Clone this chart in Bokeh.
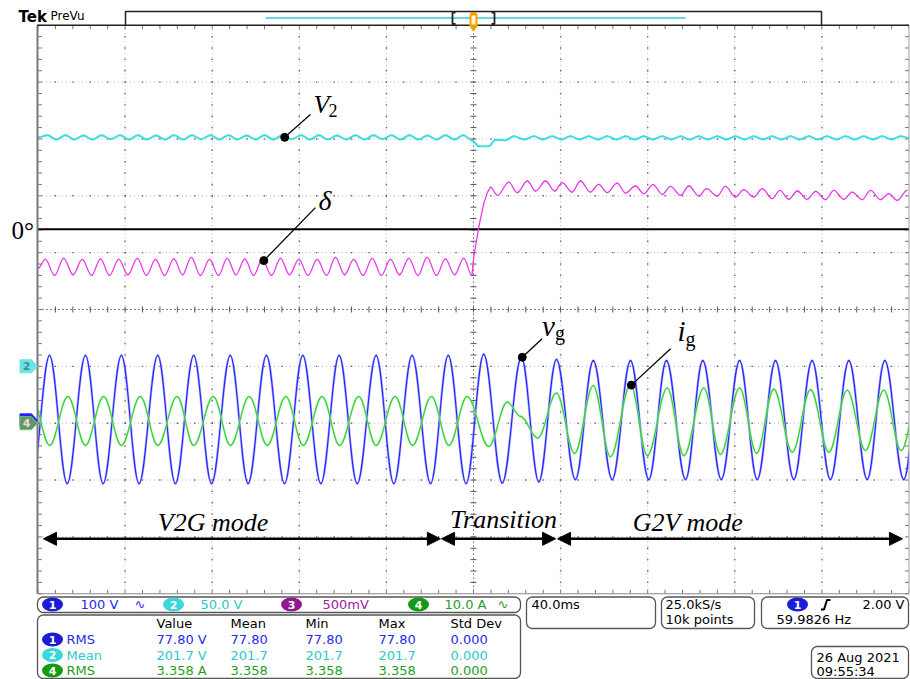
import numpy as np
from bokeh.plotting import figure
from bokeh.models import Range1d, Label, Arrow, NormalHead
from bokeh.embed import file_html
from bokeh.resources import INLINE

# ------------------------------------------------------------------ data
TIME_PER_DIV_MS = 40.0
CH_SCALE = {"ch1": 100.0, "ch2": 50.0, "ch3": 500.0, "ch4": 10.0}   # units per division
CH_POS_DIV = {"ch1": -1.95, "ch2": -1.0, "ch3": 1.41, "ch4": -2.0}  # ground level (div from centre)

# ch1: grid voltage v_g (V) - successive extrema
vg_t = [-203.0, -194.7, -186.6, -178.2, -170.1, -161.7, -153.6, -145.0, -136.9, -128.5,
        -120.3, -111.7, -103.5, -95.1, -86.8, -78.4, -70.1, -61.7, -53.4, -44.7,
        -36.6, -28.2, -19.7, -11.6, -3.4, 4.7, 13.2, 22.0, 30.0, 38.1,
        46.8, 55.0, 63.7, 72.1, 80.5, 88.6, 97.4, 105.3, 113.8, 122.2,
        130.3, 138.7, 147.1, 155.5, 163.9, 172.4, 180.8, 188.9, 197.6, 205.7]
vg_v = [-111, 114, -111, 114, -111, 114, -111, 114, -111, 114,
        -111, 114, -111, 114, -111, 114, -111, 114, -111, 114,
        -111, 114, -111, 114, -111, 116, -110, 111, -108, 107,
        -104, 105, -104, 105, -104, 105, -104, 105, -104, 105,
        -104, 105, -104, 105, -104, 105, -104, 105, -104, 105]

# ch4: grid current i_g (A) - successive extrema
ig_t = [-203.0, -194.6, -186.3, -178.2, -169.9, -161.7, -153.0, -145.0, -136.1, -128.5,
        -119.5, -111.6, -103.0, -94.7, -86.2, -78.2, -69.5, -61.5, -52.7, -44.7,
        -36.0, -28.0, -19.3, -11.3, -2.9, 7.0, 15.5, 21.6, 29.5, 38.1,
        46.4, 55.0, 62.9, 72.1, 79.8, 89.0, 96.6, 105.8, 113.4, 122.2,
        130.0, 137.9, 146.4, 154.8, 163.2, 171.6, 180.0, 188.4, 196.4, 204.8]
ig_v = [4.7, -3.9, 4.7, -3.9, 4.7, -3.9, 4.7, -3.9, 4.7, -3.9,
        4.7, -3.9, 4.7, -3.9, 4.7, -3.9, 4.7, -3.9, 4.7, -3.9,
        4.7, -3.9, 4.7, -3.9, 4.7, -4.1, 3.7, 1.2, -2.6, 5.3,
        -5.3, 6.6, -5.9, 6.8, -5.7, 6.2, -5.7, 6.2, -5.5, 6.2,
        -5.3, 6.0, -5.1, 5.9, -5.1, 5.8, -4.8, 5.8, -4.8, 5.8]

# ch2: DC-link voltage V2 (V)
v2_t = [-200.0, -195.6, -191.5, -187.4, -183.3, -179.1, -175.0, -170.8,
        -166.6, -162.3, -158.2, -154.1, -150.0, -145.8, -141.7, -137.5,
        -133.4, -129.3, -125.1, -120.8, -116.7, -112.5, -108.4, -104.2,
        -100.1, -96.0, -91.9, -87.7, -83.5, -79.2, -75.1, -71.0,
        -66.9, -62.7, -58.5, -54.2, -50.1, -45.9, -41.8, -37.7,
        -33.6, -29.4, -25.3, -21.1, -17.0, -12.9, -8.8, -4.6,
        -0.6, 2.4, 7.0, 10.1, 14.7, 18.5,
        23.4, 27.7, 31.9, 36.1, 40.4, 44.5, 48.7, 52.9,
        57.2, 61.4, 65.7, 69.8, 73.9, 78.2, 82.4, 86.7,
        90.9, 95.1, 99.2, 103.5, 107.7, 111.9, 116.2, 120.3,
        124.5, 128.7, 133.0, 137.2, 141.4, 145.6, 149.7, 154.0,
        158.2, 162.4, 166.7, 170.8, 175.0, 179.2, 183.5, 187.7,
        192.0, 196.1, 200.0]
v2_v = [201.4, 203.2, 199.6, 203.2, 199.6, 203.0, 199.6, 203.2,
        199.8, 203.2, 199.6, 203.2, 199.6, 203.0, 199.6, 203.2,
        199.6, 203.2, 199.8, 203.2, 199.6, 203.2, 199.6, 203.0,
        199.6, 203.2, 199.6, 203.2, 199.8, 203.2, 199.6, 203.2,
        199.6, 203.0, 199.6, 203.2, 199.6, 203.2, 199.8, 203.2,
        199.6, 203.2, 199.6, 203.0, 199.6, 203.2, 199.6, 203.2,
        198.7, 193.5, 193.5, 199.4, 198.8, 202.3,
        199.6, 202.3, 199.6, 202.3, 199.6, 202.3, 199.6, 202.3,
        199.6, 202.3, 199.6, 202.3, 199.6, 202.3, 199.6, 202.3,
        199.6, 202.3, 199.6, 202.3, 199.6, 202.3, 199.6, 202.3,
        199.6, 202.3, 199.6, 202.3, 199.6, 202.3, 199.6, 202.3,
        199.6, 202.3, 199.6, 202.3, 199.6, 202.3, 199.6, 202.3,
        199.6, 202.3, 200.9]

# ch3: phase shift delta (mV) - before, during and after the mode change
delta_pre_t = [-200.0, -196.6, -192.4, -188.2, -183.9, -179.7, -175.4, -171.3,
               -167.2, -162.9, -158.7, -154.4, -150.2, -146.0, -141.9, -137.6,
               -133.6, -129.6, -125.4, -121.2, -117.1, -113.1, -109.1, -105.0,
               -101.0, -97.0, -92.8, -88.6, -84.5, -80.2, -76.0, -71.8,
               -67.5, -63.4, -59.2, -55.0, -50.7, -46.5, -42.3, -38.1,
               -34.0, -29.7, -25.5, -21.3, -17.0, -12.9, -8.7, -4.5,
               -0.7]
delta_pre_v = [-343, -264, -405, -255, -400, -264, -405, -260,
               -405, -264, -400, -255, -405, -264, -405, -260,
               -400, -246, -405, -264, -405, -255, -400, -260,
               -405, -264, -405, -255, -400, -264, -405, -264,
               -405, -246, -400, -264, -405, -255, -405, -264,
               -400, -255, -405, -246, -405, -260, -400, -255,
               -405]
delta_step_t = [-0.7, 0.2, 1.4, 2.4, 4.7, 6.4, 7.8]
delta_step_v = [-405, -229, -97, 20, 226, 325, 372]
delta_post_t = [7.8, 11.0, 16.2, 20.1, 24.7, 28.5, 33.1, 37.3,
                40.7, 45.3, 49.1, 53.7, 57.5, 61.4, 66.0, 69.8,
                74.4, 78.2, 82.5, 86.7, 90.5, 95.1, 98.9, 103.5,
                107.0, 111.9, 115.7, 120.3, 124.1, 128.7, 132.6, 137.2,
                140.7, 144.8, 148.7, 153.2, 157.1, 161.7, 165.5, 170.1,
                173.9, 178.5, 182.3, 186.9, 190.7, 194.6, 199.2]
delta_post_v = [372, 299, 416, 323, 425, 337, 425, 337,
                411, 328, 425, 328, 396, 323, 407, 319,
                381, 314, 393, 308, 378, 299, 381, 293,
                358, 293, 378, 284, 349, 284, 358, 270,
                343, 264, 337, 264, 334, 261, 343, 264,
                328, 261, 343, 261, 314, 255, 343]

# operating modes (ms)
mode_names = ["V2G mode", "Transition", "G2V mode"]
mode_start_ms = [-197.5, -14.7, 38.6]
mode_end_ms = [-15.2, 37.7, 197.0]

# on-screen readouts
ch_ids = ["1", "2", "3", "4"]
ch_scale_text = ["100 V", "50.0 V", "500mV", "10.0 A"]
meas_header = ["Value", "Mean", "Min", "Max", "Std Dev"]
meas_src = ["1", "2", "4"]
meas_type = ["RMS", "Mean", "RMS"]
meas_value = ["77.80 V", "201.7 V", "3.358 A"]
meas_mean = ["77.80", "201.7", "3.358"]
meas_min = ["77.80", "201.7", "3.358"]
meas_max = ["77.80", "201.7", "3.358"]
meas_std = ["0.000", "0.000", "0.000"]
timebase_text = "40.0ms"
sample_text = ["25.0kS/s", "10k points"]
trigger_level_text = "2.00 V"
freq_text = "59.9826 Hz"
date_text = ["26 Aug 2021", "09:55:34"]

# ------------------------------------------------------------------ layout
W, H = 910, 679
GX0, GX1 = 37.5, 908.5
GY0, GY1 = 24.75, 593.25
DX = (GX1 - GX0) / 10
DY = (GY1 - GY0) / 10
CX = (GX0 + GX1) / 2
CY = (GY0 + GY1) / 2

BLUE, CYAN, PINK, GREEN = "#2323ff", "#3cdede", "#e838e8", "#30d030"
TBLUE, TCYAN, TPURP, TGREEN = "#2a2ae8", "#2ec8c8", "#a020a0", "#1ea01e"
PILL = {"1": "#1c1cd8", "2": "#3ad8d8", "3": "#8e1a8e", "4": "#159a15"}
PANEL_FONT = "DejaVu Sans"
SERIF = "Liberation Serif"


def Y(py):
    return H - py


p = figure(width=W, height=H, x_range=Range1d(0, W), y_range=Range1d(0, H),
           output_backend="svg", toolbar_location=None, min_border=0,
           x_axis_location=None, y_axis_location=None, outline_line_color=None,
           background_fill_color="white", border_fill_color="white")
p.xgrid.visible = False
p.ygrid.visible = False

t_lo = -5 * TIME_PER_DIV_MS - GX0 / DX * TIME_PER_DIV_MS
t_hi = 5 * TIME_PER_DIV_MS + (W - GX1) / DX * TIME_PER_DIV_MS
p.extra_x_ranges = {"t": Range1d(t_lo, t_hi)}
ch_ground = {}
yr = {}
for ch, s in CH_SCALE.items():
    g = CY - CH_POS_DIV[ch] * DY
    ch_ground[ch] = g
    yr[ch] = Range1d((g - H) / DY * s, g / DY * s)
p.extra_y_ranges = yr

# ------------------------------------------------------------------ graticule
minor_x = [GX0 + i * DX / 5 for i in range(51)]
minor_y = [GY0 + j * DY / 5 for j in range(51)]
major_x = [GX0 + k * DX for k in range(1, 10) if k != 5]
major_y = [GY0 + k * DY for k in range(1, 10) if k != 5]

p.multi_line(xs=[[x, x] for x in major_x], ys=[[Y(GY0), Y(GY1)]] * len(major_x),
             line_color="#bbbbbb", line_dash="1 3", line_width=1)
p.multi_line(xs=[[GX0, GX1]] * len(major_y), ys=[[Y(y), Y(y)] for y in major_y],
             line_color="#bbbbbb", line_dash="1 3", line_width=1)
dx_, dy_ = [], []
for x in major_x:
    for y in minor_y[1:-1]:
        dx_.append(x); dy_.append(Y(y))
for y in major_y:
    for x in minor_x[1:-1]:
        dx_.append(x); dy_.append(Y(y))
p.rect(x=dx_, y=dy_, width=1.4, height=1.4, fill_color="#666666", line_color=None)

# centre lines with minor ticks
p.segment(x0=[CX], y0=[Y(GY0)], x1=[CX], y1=[Y(GY1)], line_color="#888888", line_dash="2 2")
p.segment(x0=[GX0], y0=[Y(CY)], x1=[GX1], y1=[Y(CY)], line_color="#888888", line_dash="2 2")
p.segment(x0=[CX - 3] * 49, y0=[Y(y) for y in minor_y[1:-1]], x1=[CX + 3] * 49,
          y1=[Y(y) for y in minor_y[1:-1]], line_color="#555555")
p.segment(x0=minor_x[1:-1], y0=[Y(CY) - 3] * 49, x1=minor_x[1:-1], y1=[Y(CY) + 3] * 49,
          line_color="#555555")
# edge ticks
p.segment(x0=minor_x, y0=[Y(GY0)] * 51, x1=minor_x, y1=[Y(GY0 + 4)] * 51, line_color="#777777")
p.segment(x0=minor_x, y0=[Y(GY1)] * 51, x1=minor_x, y1=[Y(GY1 - 4)] * 51, line_color="#777777")
p.segment(x0=[GX0] * 51, y0=[Y(y) for y in minor_y], x1=[GX0 + 4] * 51,
          y1=[Y(y) for y in minor_y], line_color="#777777")
p.segment(x0=[GX1] * 51, y0=[Y(y) for y in minor_y], x1=[GX1 - 4] * 51,
          y1=[Y(y) for y in minor_y], line_color="#777777")


# ------------------------------------------------------------------ traces
def smooth(t, v, yname, color, width, alpha=1.0):
    t = np.asarray(t, float)
    v = np.asarray(v, float)
    assert len(t) == len(v)
    d = np.diff(t)
    c = 1 - 2 / np.pi
    p.bezier(x0=t[:-1], y0=v[:-1], x1=t[1:], y1=v[1:],
             cx0=t[:-1] + c * d, cy0=v[:-1], cx1=t[1:] - c * d, cy1=v[1:],
             line_color=color, line_width=width, line_alpha=alpha, line_cap="round",
             x_range_name="t", y_range_name=yname)


# zero-degree reference of delta
p.line(x=[-200, 200], y=[0, 0], x_range_name="t", y_range_name="ch3",
       line_color="black", line_width=2)

smooth(v2_t, v2_v, "ch2", CYAN, 2.0)
smooth(delta_pre_t, delta_pre_v, "ch3", PINK, 1.3)
p.line(delta_step_t, delta_step_v, x_range_name="t", y_range_name="ch3",
       line_color=PINK, line_width=1.3)
smooth(delta_post_t, delta_post_v, "ch3", PINK, 1.3)
smooth(vg_t, vg_v, "ch1", "#9090ff", 2.4, 0.7)
smooth(vg_t, vg_v, "ch1", BLUE, 1.1)
smooth(ig_t, ig_v, "ch4", "#a8f0a8", 2.2, 0.7)
smooth(ig_t, ig_v, "ch4", GREEN, 1.1)

# mask anything beyond the graticule
p.quad(left=[0, GX1], right=[GX0 - 0.5, W], bottom=[Y(GY1 + 1)] * 2, top=[Y(GY0)] * 2,
       fill_color="white", line_color=None)

# borders
p.segment(x0=[GX0 - 0.5], y0=[Y(GY0)], x1=[GX0 - 0.5], y1=[Y(GY1)], line_color="#7a7a7a", line_width=2)
p.segment(x0=[GX1], y0=[Y(GY0)], x1=[GX1], y1=[Y(GY1)], line_color="#a0a0a0", line_width=1)
p.segment(x0=[GX0 - 1], y0=[Y(GY0)], x1=[GX1], y1=[Y(GY0)], line_color="#222222", line_width=1.5)
p.segment(x0=[GX0 - 1], y0=[Y(GY1)], x1=[GX1], y1=[Y(GY1)], line_color="#888888", line_width=1)


# ------------------------------------------------------------------ annotations
def label(x, y, text, size=13, color="black", font=PANEL_FONT, style="normal",
          align="left", baseline="middle", xr="default", yr_="default"):
    # baseline "alphabetic" is emulated with a centred text shifted up
    yoff = 0
    if baseline == "alphabetic":
        baseline = "middle"
        yoff = 0.34 * size
    p.add_layout(Label(x=x, y=y, text=text, text_font=font, text_font_size=f"{size}px",
                       text_color=color, text_font_style=style, text_align=align,
                       text_baseline=baseline, y_offset=yoff,
                       x_range_name=xr, y_range_name=yr_))


ann = [  # channel, dot (t, v), leader end (t, v), [(t, v, text, size, style)]
    ("ch2", (-86.7, 201.4), (-74.9, 221.6), [(-73.5, 222.8, "V", 26, "italic"),
                                             (-66.6, 219.3, "2", 18, "normal")]),
    ("ch3", (-96.3, -275.0), (-72.6, 190.9), [(-71.2, 167.0, "δ", 28, "italic")]),
    ("ch1", (22.4, 111.0), (31.5, 143.7), [(31.5, 149.5, "v", 29, "italic"),
                                           (37.4, 142.5, "g", 20, "normal")]),
    ("ch4", (72.5, 6.7), (90.5, 13.1), [(93.7, 14.5, "i", 29, "italic"),
                                        (97.4, 13.6, "g", 20, "normal")]),
]
for ch, dot, end, texts in ann:
    p.line(x=[dot[0], end[0]], y=[dot[1], end[1]], x_range_name="t", y_range_name=ch,
           line_color="black", line_width=1.3)
    p.scatter(x=[dot[0]], y=[dot[1]], size=8, x_range_name="t", y_range_name=ch,
              fill_color="black", line_color="black")
    for (tx, ty, s, fs, st) in texts:
        label(tx, ty, s, size=fs, font=SERIF, style=st, baseline="alphabetic", xr="t", yr_=ch)

label(11, Y(238), "0°", size=25, font=SERIF, baseline="alphabetic")

# mode arrows
for name, s, e in zip(mode_names, mode_start_ms, mode_end_ms):
    p.add_layout(Arrow(x_start=s, y_start=Y(538.3), x_end=e, y_end=Y(538.3),
                       x_range_name="t", line_width=2.5, line_color="black",
                       start=NormalHead(size=13, fill_color="black", line_color="black"),
                       end=NormalHead(size=13, fill_color="black", line_color="black")))
mode_label_t = [-119.6, 13.8, 98.5]
mode_label_y = [531, 527.5, 531]
for name, tx, py in zip(mode_names, mode_label_t, mode_label_y):
    label(tx, Y(py), name, size=26, font=SERIF, style="italic", align="center",
          baseline="alphabetic", xr="t")

# channel ground markers
def tag(g, fill, line):
    xs = [19.5, 31, 37, 31, 19.5]
    ys = [Y(g - 6.5), Y(g - 6.5), Y(g), Y(g + 6.5), Y(g + 6.5)]
    p.patch(xs, ys, fill_color=fill, line_color=line, line_width=1)

tag(ch_ground["ch1"], BLUE, BLUE)
tag(ch_ground["ch2"], "#6ae4e4", "#6ae4e4")
label(26, Y(ch_ground["ch2"]), "2", size=11, color="#3b8e8e", style="bold", align="center")
tag(ch_ground["ch4"], "#6e8e6e", "#56d856")
label(26, Y(ch_ground["ch4"]), "4", size=11, color="#d6e6d6", style="bold", align="center")

# ------------------------------------------------------------------ top bar
label(18, Y(16), "Tek", size=15, style="bold", font="DejaVu Sans")
label(50, Y(15.5), "PreVu", size=12, font="DejaVu Sans")
p.patch([125, 821, 821, 125], [Y(11), Y(11), Y(GY0), Y(GY0)], fill_color="white",
        line_color="#222222", line_width=1.5)
p.segment(x0=[265], y0=[Y(17.5)], x1=[685], y1=[Y(17.5)], line_color="#35c8d8", line_width=1.5)
for bx, sgn in [(452, 1), (494, -1)]:
    p.line([bx + 3 * sgn, bx, bx, bx + 3 * sgn], [Y(12), Y(12), Y(23.5), Y(23.5)],
           line_color="#222222", line_width=1.8)
OR = "#f2a000"
p.patch([470, 476, 473], [Y(12), Y(12), Y(14.5)], fill_color=OR, line_color=OR)
p.patch([470, 476, 476, 470], [Y(14), Y(14), Y(25), Y(25)], fill_color="#fff3d0",
        line_color=OR, line_width=2)
p.patch([469, 477, 473], [Y(25), Y(25), Y(30.5)], fill_color=OR, line_color=OR)


# ------------------------------------------------------------------ bottom readouts
def rrect(l, r, t, b, rad=6, n=7):
    xs, ys = [], []
    for cx, cy, a0, a1 in [(r - rad, t + rad, -90, 0), (r - rad, b - rad, 0, 90),
                           (l + rad, b - rad, 90, 180), (l + rad, t + rad, 180, 270)]:
        for a in np.linspace(np.radians(a0), np.radians(a1), n):
            xs.append(cx + rad * np.cos(a))
            ys.append(Y(cy + rad * np.sin(a)))
    p.patch(xs, ys, fill_alpha=0, line_color="#555555", line_width=1.3)


rrect(37, 520, 596.5, 612)
rrect(37, 520, 614.5, 678)
rrect(526, 655, 596.5, 628)
rrect(661, 754, 596.5, 628)
rrect(761, 908, 596.5, 628)
rrect(811, 908, 646, 678)


def pill(x, py, ch):
    p.ellipse(x=[x], y=[Y(py)], width=21, height=14, fill_color=PILL[ch], line_color=None)
    label(x, Y(py), ch, size=11, color="white", style="bold", align="center")


row_y = 604
ch_pill_x = [52, 173, 291, 418]
ch_text_x = [80, 200, 322, 444]
ch_col = [TBLUE, TCYAN, TPURP, TGREEN]
for cid, txt, px_, tx_, col in zip(ch_ids, ch_scale_text, ch_pill_x, ch_text_x, ch_col):
    pill(px_, row_y, cid)
    label(tx_, Y(row_y), txt, color=col)
label(134, Y(row_y), "∿", color=TBLUE)
label(497, Y(row_y), "∿", color=TGREEN)

col_x = [156, 230, 305, 378, 450]
for h, x in zip(meas_header, col_x):
    label(x, Y(623), h)
meas_col = {"1": TBLUE, "2": TCYAN, "4": TGREEN}
for i, (src, typ) in enumerate(zip(meas_src, meas_type)):
    py = 639 + 15.5 * i
    pill(52, py, src)
    c = meas_col[src]
    label(66, Y(py), typ, color=c)
    for x, txt in zip(col_x, [meas_value[i], meas_mean[i], meas_min[i], meas_max[i], meas_std[i]]):
        label(x, Y(py), txt, color=c)

label(531, Y(604), timebase_text)
label(665, Y(604), sample_text[0])
label(665, Y(619), sample_text[1])
pill(797, 604, "1")
p.line([820.5, 823.5, 826.5, 830], [Y(609), Y(609), Y(599.5), Y(599.5)],
       line_color="black", line_width=2)
label(904, Y(604), trigger_level_text, align="right")
label(776, Y(619), freq_text)
label(816, Y(657), date_text[0])
label(816, Y(671), date_text[1])

open("out.html", "w").write(file_html(p, INLINE))
